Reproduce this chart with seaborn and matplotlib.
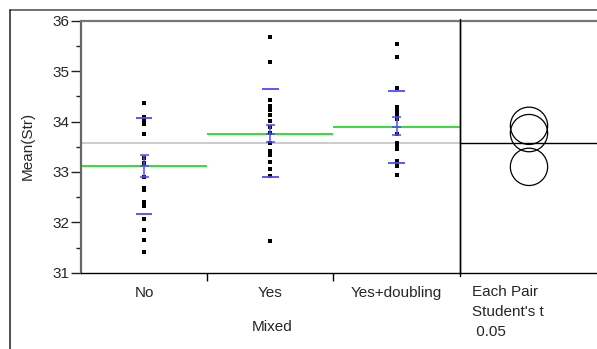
import matplotlib
matplotlib.use("Agg")
import matplotlib.pyplot as plt
from matplotlib.lines import Line2D
from matplotlib.patches import Circle
import numpy as np
import pandas as pd
import seaborn as sns

# ---- data -------------------------------------------------------------
groups = ["No", "Yes", "Yes+doubling"]
no_vals = [34.36, 34.08, 34.04, 34.00, 33.95, 33.75, 33.28, 33.17, 32.89,
           32.69, 32.64, 32.40, 32.32, 32.06, 31.84, 31.64, 31.42]
yes_vals = [35.67, 35.19, 34.42, 34.31, 34.22, 34.13, 34.01, 33.90, 33.77,
            33.58, 33.42, 33.38, 33.33, 33.20, 33.06, 32.92, 31.62]
ydb_vals = [35.53, 35.28, 34.66, 34.29, 34.23, 34.16, 34.10, 34.04, 33.75,
            33.57, 33.51, 33.45, 33.21, 33.16, 33.12, 32.93]

group_means = [33.11, 33.76, 33.885]
ci_lo = [32.89, 33.59, 33.73]
ci_hi = [33.33, 33.94, 34.08]
sd_lo = [32.17, 32.89, 33.17]
sd_hi = [34.06, 34.64, 34.61]
grand_mean = 33.58
circle_centers = [33.10, 33.77, 33.915]
circle_radius = [0.37, 0.37, 0.37]

y_ticks = [31, 32, 33, 34, 35, 36]

df = pd.DataFrame({
    "Mixed": ["No"] * len(no_vals) + ["Yes"] * len(yes_vals)
             + ["Yes+doubling"] * len(ydb_vals),
    "Str": no_vals + yes_vals + ydb_vals,
})

# ---- figure layout (pixel based) -------------------------------------
W, H = 597, 349
FS = 11
sns.set_style("white")
plt.rcParams["font.family"] = ["Liberation Sans", "DejaVu Sans"]
fig = plt.figure(figsize=(W / 100, H / 100), dpi=100)


def fx(px):
    return px / W


def fy(py):
    return 1 - py / H


left, right_main, top, bottom = 81, 459.7, 20.7, 272.7
ax = fig.add_axes([fx(left), fy(bottom), fx(right_main - left), (bottom - top) / H])
ax2 = fig.add_axes([fx(right_main), fy(bottom), fx(W - right_main), (bottom - top) / H])

BLUE = "#4a4aff"
GREEN = "#22dd22"

# ---- main oneway panel ------------------------------------------------
sns.stripplot(data=df, x="Mixed", y="Str", order=groups, jitter=False,
              marker="s", color="black", size=3.5, linewidth=0, ax=ax, zorder=4)

ax.axhline(grand_mean, color="#c4c4c4", lw=1.2, zorder=1)
for i in range(len(groups)):
    ax.hlines(group_means[i], i - 0.5, i + 0.5, color=GREEN, lw=1.3, zorder=2)
    ax.hlines([sd_lo[i], sd_hi[i]], i - 0.065, i + 0.065, color=BLUE, lw=1.3, zorder=5)
    ax.vlines(i, ci_lo[i], ci_hi[i], color=BLUE, lw=1.1, zorder=5)
    ax.hlines([ci_lo[i], group_means[i], ci_hi[i]], i - 0.036, i + 0.036,
              color=BLUE, lw=1.1, zorder=5)

ax.set_xlim(-0.5, 2.5)
ax.set_ylim(31, 36)
ax.set_yticks(y_ticks)
ax.set_yticklabels([str(t) for t in y_ticks], fontsize=FS)
ax.set_yticks(np.arange(31.5, 36, 1.0), minor=True)
ax.tick_params(axis="y", which="major", left=True, length=7.2, width=1,
               color="#222222", pad=1)
ax.tick_params(axis="y", which="minor", left=True, length=3.6, width=1,
               color="#222222")
ax.set_xticks(range(len(groups)))
ax.set_xticklabels(groups, fontsize=FS)
ax.tick_params(axis="x", which="major", length=0, pad=9.8)
ax.set_xticks([0.5, 1.5], minor=True)
ax.tick_params(axis="x", which="minor", bottom=True, length=5.8, width=1,
               color="black", direction="out")
ax.set_xlabel("")
ax.set_ylabel("")
for s in ["top", "right"]:
    ax.spines[s].set_visible(False)
ax.spines["left"].set_color("#666666")
ax.spines["left"].set_linewidth(1.6)
ax.spines["bottom"].set_color("black")
ax.spines["bottom"].set_linewidth(1)

# ---- comparison circles panel ----------------------------------------
scale = (bottom - top) / 5.0
xw = (W - right_main) / scale
ax2.set_xlim(0, xw)
ax2.set_ylim(31, 36)
ax2.axhline(grand_mean, color="black", lw=1)
cx = (529 - right_main) / scale
for c, r in zip(circle_centers, circle_radius):
    ax2.add_patch(Circle((cx, c), r, fill=False, ec="black", lw=0.9))
ax2.set_xticks([])
ax2.set_yticks([])
for s in ["top", "right"]:
    ax2.spines[s].set_visible(False)
ax2.spines["left"].set_color("black")
ax2.spines["left"].set_linewidth(1)
ax2.spines["bottom"].set_color("black")
ax2.spines["bottom"].set_linewidth(1)

# ---- frame lines -------------------------------------------------------
def fline(x0, y0, x1, y1, **kw):
    fig.add_artist(Line2D([fx(x0), fx(x1)], [fy(y0), fy(y1)],
                          transform=fig.transFigure, **kw))


fline(9.5, 9.5, W, 9.5, color="#555555", lw=1.2)
fline(9.5, 9.5, 9.5, H, color="#333333", lw=1.2)
fline(left, top, W, top, color="#777777", lw=1.6)
fline(right_main, 19, right_main, 276, color="black", lw=1)

# ---- texts --------------------------------------------------------------
fig.text(fx(28), fy(146), "Mean(Str)", rotation=90, ha="center", va="center",
         fontsize=FS)
fig.text(fx(272), fy(331), "Mixed", ha="center", va="baseline", fontsize=FS)
fig.text(fx(471.5), fy(296.5), "Each Pair", ha="left", va="baseline", fontsize=FS)
fig.text(fx(471.5), fy(316), "Student's t", ha="left", va="baseline", fontsize=FS)
fig.text(fx(471.5), fy(336), " 0.05", ha="left", va="baseline", fontsize=FS)

fig.savefig("out.png", dpi=100)
